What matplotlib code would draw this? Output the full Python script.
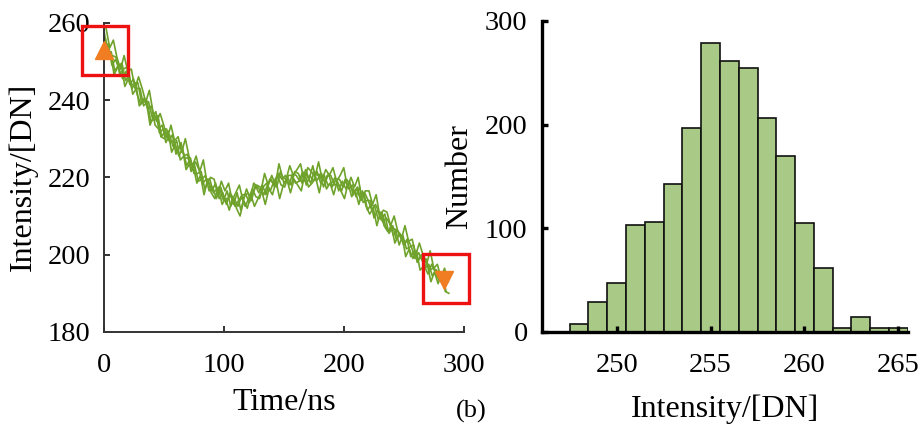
import numpy as np
import matplotlib.pyplot as plt
from matplotlib.patches import Rectangle

plt.rcParams['font.family'] = ['Liberation Serif', 'DejaVu Serif']

# Left panel: overlaid intensity traces (DN)
trace1 = [258, 252, 252.5, 247.5, 249, 249.5, 245, 246.5, 241.5, 243, 243, 238.5,
          239.5, 234.5, 235, 236, 230.5, 232, 229.5, 231, 226, 228, 226.5, 223,
          225, 221, 221, 221.5, 217, 219, 216.5, 218.5, 214.5, 216, 213, 216,
          213, 216, 211.5, 215, 216, 214, 218, 216, 218, 215.5, 219.5, 218.5,
          217.5, 221.5, 218.5, 220, 218, 221.5, 221, 218.5, 222, 219.5, 223, 219,
          220.5, 217.5, 220.5, 220.5, 218, 218.5, 216.5, 219.5, 217, 218, 215, 217.5,
          213.5, 214, 214, 209.5, 211.5, 209, 210.5, 206, 207, 206.5, 202.5, 205,
          201.5, 202, 202.5, 198, 199.5, 197, 195, 197.5, 195.5, 193.5, 195, 190.5]
trace2 = [254, 254.5, 249, 250.5, 248, 245.5, 247.5, 244, 245.5, 241.5, 239, 240.5,
          237.5, 238.5, 233.5, 232.5, 233.5, 229, 231, 228, 229.5, 224.5, 225.5, 226,
          221.5, 223, 219, 219.5, 220.5, 216.5, 217.5, 214.5, 217, 214, 216.5, 212.5,
          214.5, 212.5, 215, 212.5, 214.5, 217, 215, 214.5, 217.5, 218.5, 216.5, 219,
          220.5, 218, 217.5, 220.5, 220.5, 218.5, 219, 221.5, 218, 220.5, 219, 221.5,
          218.5, 220.5, 218, 218.5, 220, 216.5, 219, 217, 219, 215.5, 217, 214.5,
          216, 211.5, 213, 212.5, 209, 211, 207.5, 205.5, 207.5, 204, 205.5, 202.5,
          204, 199.5, 201, 198.5, 200, 196.5, 197.5, 194.5, 196, 194, 192.5, 193.5]
trace3 = [256, 251.5, 251.5, 251, 246.5, 248, 248.5, 244.5, 243.5, 244.5, 239.5, 240,
          239.5, 235.5, 237, 231.5, 232.5, 232.5, 229, 229.5, 226.5, 229, 225, 225,
          222, 224, 222, 218.5, 219.5, 219.5, 216, 217, 217.5, 214.5, 214.5, 215.5,
          212.5, 214, 215.5, 215.5, 213.5, 216, 218, 217.5, 215.5, 218, 219.5, 217.5,
          221, 219.5, 220.5, 218, 221, 220.5, 219, 221, 220.5, 218.5, 221.5, 220.5,
          221, 218.5, 221, 217.5, 219.5, 219.5, 217.5, 219.5, 218, 216, 217.5, 214,
          216, 214, 211.5, 213, 211, 208.5, 209.5, 208, 205, 206.5, 205, 202.5,
          204, 202, 199, 200.5, 198.5, 199, 196, 196.5, 196, 193.5, 194, 193.5]
trace4 = [258.5, 253.5, 255.5, 251, 248, 251.5, 247.5, 248, 243, 246, 243, 239.5,
          242.5, 237, 234.5, 236.5, 233.5, 230, 233.5, 229.5, 230.5, 226.5, 230, 225.5,
          223, 225.5, 221.5, 224.5, 218.5, 220, 219.5, 215.5, 219, 216.5, 218.5, 214,
          216, 218, 214, 217, 214.5, 218.5, 217.5, 216.5, 221, 218, 220.5, 218,
          223.5, 220, 219.5, 223, 220.5, 222, 223.5, 219, 222.5, 221.5, 220, 224,
          219.5, 222, 220.5, 222.5, 219, 220.5, 222.5, 217.5, 220, 217.5, 220, 214.5,
          216.5, 216.5, 213, 215.5, 210, 211.5, 211, 207.5, 210, 206, 204, 207.5,
          203.5, 204, 200, 203, 200, 197.5, 201, 196.5, 197.5, 194, 196.5, 193]
trace5 = [251.5, 252.5, 246.5, 248.5, 249, 243.5, 245.5, 243, 244.5, 238.5, 239.5, 239.5,
          233.5, 236, 235.5, 230.5, 230, 232, 226.5, 228.5, 225.5, 227.5, 222, 223.5,
          223, 218.5, 220.5, 215.5, 219.5, 216, 214.5, 217.5, 213, 214.5, 211.5, 215,
          212, 210, 214, 212, 215.5, 212.5, 214.5, 216.5, 213, 217, 215.5, 219,
          214.5, 218, 219.5, 216, 219.5, 218, 216.5, 221, 217.5, 218.5, 220, 216,
          220.5, 217, 218.5, 215.5, 219, 216.5, 214.5, 218.5, 215, 216.5, 213, 216.5,
          212.5, 210.5, 212, 207.5, 211, 207.5, 206, 207.5, 203, 205, 205, 199.5,
          201.5, 199, 201, 196, 197, 197.5, 193, 195.5, 192.5, 195, 190.5, 190]
traces = [trace1, trace2, trace3, trace4, trace5]
t_step = 3  # ns between samples of one trace
start_pt = (0, 253)
end_pt = (283, 193.5)

# Right panel: histogram counts, 1 DN bins starting at 247.5
bin_start = 247.5
counts = [8, 29, 47, 103, 106, 143, 197, 279, 261, 254, 206, 170, 105, 62, 4, 14, 4, 4]

green = '#6ea22a'
fill = '#a9c986'
orange = '#f07d22'

fig = plt.figure(figsize=(9.21, 4.24), dpi=100)
ax1 = fig.add_axes([0.1129, 0.217, 0.3909, 0.7295])
ax2 = fig.add_axes([0.588, 0.217, 0.3976, 0.734])

for i, tr in enumerate(traces):
    t = np.arange(len(tr)) * t_step + i * 0.6
    ax1.plot(t, tr, color=green, lw=1.2)
ax1.plot(*start_pt, marker='^', color=orange, ms=13, zorder=5, clip_on=False)
ax1.plot(*end_pt, marker='v', color=orange, ms=13, zorder=5, clip_on=False)
for x0, y0, w, h in [(-18, 246.5, 38, 12.7), (266, 187.5, 38, 12.6)]:
    ax1.add_patch(Rectangle((x0, y0), w, h, fill=False, ec='#ee1111', lw=2.4,
                            clip_on=False, zorder=6))
ax1.set_xlim(0, 300)
ax1.set_ylim(180, 260)
ax1.set_xticks([0, 100, 200, 300])
ax1.set_yticks([180, 200, 220, 240, 260])
ax1.set_xlabel('Time/ns', fontsize=23, labelpad=7)
ax1.set_ylabel('Intensity/[DN]', fontsize=23, labelpad=7)

centers = bin_start + 0.5 + np.arange(len(counts))
ax2.bar(centers, counts, width=1, color=fill, edgecolor='#111111', lw=1.2)
ax2.set_xlim(246, 265.5)
ax2.set_ylim(0, 300)
ax2.set_xticks([250, 255, 260, 265])
ax2.set_yticks([0, 100, 200, 300])
ax2.set_xlabel('Intensity/[DN]', fontsize=23, labelpad=12)
ax2.set_ylabel('Number', fontsize=23, labelpad=8)

for ax, col, lw in [(ax1, '#333333', 1.4), (ax2, 'black', 2.4)]:
    for s in ['top', 'right']:
        ax.spines[s].set_visible(False)
    for s in ['left', 'bottom']:
        ax.spines[s].set_color(col)
        ax.spines[s].set_linewidth(lw)
    ax.tick_params(direction='in', length=4, width=lw, color=col, labelsize=20.5)
    ax.tick_params(axis='x', pad=15)
    ax.tick_params(axis='y', pad=10)

fig.text(0.512, 0.03, '(b)', fontsize=19, ha='center', va='center')

fig.savefig('out.png', dpi=100)
